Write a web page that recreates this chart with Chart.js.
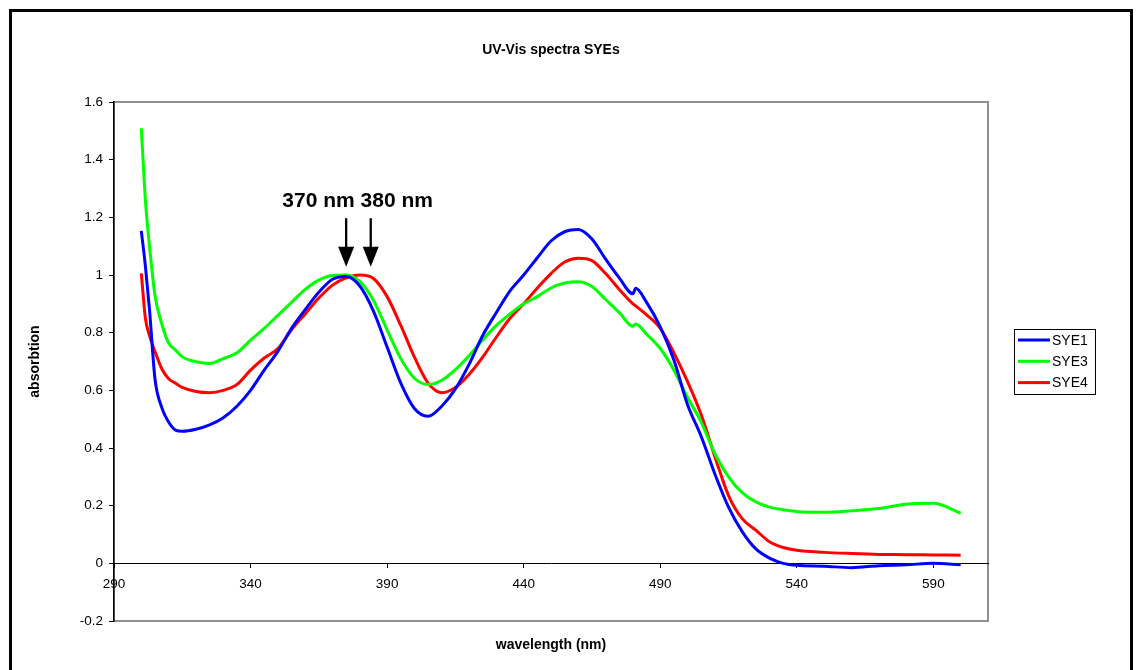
<!DOCTYPE html>
<html>
<head>
<meta charset="utf-8">
<script src="https://cdn.jsdelivr.net/npm/chart.js@4"></script>
<style>
html, body { margin: 0; padding: 0; background: #fff; }
</style>
</head>
<body>
<canvas id="uvvis" width="1136" height="670"></canvas>
<script>
// values
const wavelength = [300, 301.5, 303, 305, 307.5, 310, 312.5, 315, 320, 325, 330, 335, 340, 345, 350, 355, 360, 365, 370, 375,
  380, 385, 390, 395, 400, 405, 410, 415, 420, 425, 430, 435, 440, 445, 450, 455, 460, 465, 470, 475,
  480, 481, 485, 490, 495, 500, 505, 510, 515, 520, 525, 530, 535, 540, 550, 560, 570, 580, 590, 600];

const sye1 = [1.153, 1.03, 0.88, 0.64, 0.54, 0.49, 0.462, 0.458, 0.465, 0.48, 0.505, 0.545, 0.6, 0.67, 0.735, 0.815, 0.88, 0.94, 0.985, 0.995,
  0.962, 0.875, 0.75, 0.625, 0.537, 0.51, 0.545, 0.605, 0.69, 0.79, 0.87, 0.945, 1.0, 1.06, 1.118, 1.15, 1.158, 1.125, 1.055, 0.99,
  0.935, 0.954, 0.905, 0.82, 0.705, 0.55, 0.44, 0.31, 0.195, 0.11, 0.05, 0.018, 0.0, -0.007, -0.01, -0.015, -0.008, -0.005, 0.0, -0.005];

const sye3 = [1.509, 1.26, 1.1, 0.93, 0.83, 0.764, 0.74, 0.716, 0.699, 0.693, 0.71, 0.73, 0.774, 0.815, 0.86, 0.905, 0.95, 0.982, 0.998, 1.0,
  0.978, 0.912, 0.81, 0.71, 0.642, 0.62, 0.635, 0.672, 0.72, 0.775, 0.825, 0.865, 0.9, 0.925, 0.955, 0.972, 0.977, 0.96, 0.915, 0.87,
  0.822, 0.83, 0.795, 0.745, 0.67, 0.575, 0.49, 0.38, 0.3, 0.245, 0.213, 0.195, 0.186, 0.18, 0.177, 0.182, 0.19, 0.205, 0.208, 0.174];

const sye4 = [1.006, 0.85, 0.79, 0.735, 0.675, 0.64, 0.625, 0.61, 0.596, 0.592, 0.6, 0.62, 0.67, 0.712, 0.745, 0.81, 0.865, 0.92, 0.965, 0.99,
  1.0, 0.988, 0.925, 0.825, 0.715, 0.625, 0.592, 0.61, 0.655, 0.715, 0.785, 0.85, 0.9, 0.955, 1.005, 1.045, 1.058, 1.05, 1.005, 0.95,
  0.9, 0.893, 0.862, 0.815, 0.73, 0.63, 0.515, 0.37, 0.235, 0.155, 0.115, 0.075, 0.055, 0.045, 0.038, 0.034, 0.031, 0.03, 0.029, 0.028];

const seriesNames = ['SYE1', 'SYE3', 'SYE4'];
const seriesColors = ['#0000ff', '#00ff00', '#ff0000'];

const xTicks = [290, 340, 390, 440, 490, 540, 590];
const yTicks = [-0.2, 0, 0.2, 0.4, 0.6, 0.8, 1, 1.2, 1.4, 1.6];

// arrows pointing at the two maxima
const arrowWl = [375, 384];
const arrowTop = 1.197;
const arrowTip = 1.029;
const arrowText = '370 nm 380 nm';
const arrowTextAt = [379.2, 1.257];

const chartTitle = 'UV-Vis spectra SYEs';
const xTitle = 'wavelength (nm)';
const yTitle = 'absorbtion';

const FONT = '"Liberation Sans", Arial, sans-serif';

const toPoints = (vals) => vals.map((v, i) => ({ x: wavelength[i], y: v }));

const frame = {
    id: 'frame',
    beforeDraw(chart) {
        const { ctx, chartArea: a } = chart;
        ctx.save();
        ctx.fillStyle = '#fff';
        ctx.fillRect(0, 0, chart.width, chart.height);
        ctx.strokeStyle = '#909090';
        ctx.lineWidth = 2;
        ctx.strokeRect(a.left, a.top, a.right - a.left, a.bottom - a.top);
        ctx.restore();
    },
    afterDraw(chart) {
        const { ctx, chartArea: a } = chart;
        const xs = chart.scales.x, ys = chart.scales.y;
        const cx = (a.left + a.right) / 2;
        ctx.save();

        // outer border
        ctx.strokeStyle = '#000';
        ctx.lineWidth = 3;
        ctx.strokeRect(10.5, 10.5, 1121, 700);

        // titles
        ctx.fillStyle = '#000';
        ctx.textAlign = 'center';
        ctx.textBaseline = 'middle';
        ctx.font = 'bold 14px ' + FONT;
        ctx.fillText(chartTitle, cx, 50);
        ctx.fillText(xTitle, cx, 645);
        ctx.save();
        ctx.translate(35, (a.top + a.bottom) / 2);
        ctx.rotate(-Math.PI / 2);
        ctx.fillText(yTitle, 0, 0);
        ctx.restore();

        // annotation
        ctx.font = 'bold 21px ' + FONT;
        ctx.fillText(arrowText, xs.getPixelForValue(arrowTextAt[0]), ys.getPixelForValue(arrowTextAt[1]));
        arrowWl.forEach(wl => {
            const x = xs.getPixelForValue(wl);
            const y0 = ys.getPixelForValue(arrowTop);
            const y1 = ys.getPixelForValue(arrowTip);
            ctx.strokeStyle = '#000';
            ctx.lineWidth = 2.3;
            ctx.beginPath();
            ctx.moveTo(x, y0);
            ctx.lineTo(x, y1 - 15);
            ctx.stroke();
            ctx.beginPath();
            ctx.moveTo(x - 8, y1 - 20);
            ctx.lineTo(x + 8, y1 - 20);
            ctx.lineTo(x, y1);
            ctx.closePath();
            ctx.fill();
        });

        // legend
        ctx.strokeStyle = '#000';
        ctx.lineWidth = 1;
        ctx.strokeRect(1014.5, 329.5, 81, 65);
        ctx.font = '14px ' + FONT;
        ctx.textAlign = 'left';
        seriesNames.forEach((name, i) => {
            const y = 340 + i * 21.3;
            ctx.strokeStyle = seriesColors[i];
            ctx.lineWidth = 3;
            ctx.beginPath();
            ctx.moveTo(1018, y);
            ctx.lineTo(1050, y);
            ctx.stroke();
            ctx.fillStyle = '#000';
            ctx.fillText(name, 1052, y + 1);
        });
        ctx.restore();
    }
};

new Chart(document.getElementById('uvvis'), {
    type: 'line',
    data: {
        datasets: [sye1, sye3, sye4].map((vals, i) => ({
            label: seriesNames[i],
            data: toPoints(vals),
            borderColor: seriesColors[i],
            backgroundColor: seriesColors[i],
            borderWidth: 3,
            pointRadius: 0,
            cubicInterpolationMode: 'monotone',
            fill: false
        }))
    },
    options: {
        responsive: false,
        animation: false,
        layout: { padding: { top: 102, right: 148, bottom: 49, left: 0 } },
        plugins: {
            legend: { display: false },
            title: { display: false },
            tooltip: { enabled: false }
        },
        scales: {
            x: {
                type: 'linear',
                min: 290,
                max: 610,
                position: { y: 0 },
                grid: { drawOnChartArea: false, tickLength: 4, color: '#000' },
                border: { color: '#000', width: 1 },
                ticks: {
                    color: '#000',
                    font: { family: FONT, size: 13.5 },
                    padding: 9,
                    maxRotation: 0,
                    autoSkip: false
                },
                afterBuildTicks: (s) => { s.ticks = xTicks.map(v => ({ value: v })); }
            },
            y: {
                type: 'linear',
                min: -0.2,
                max: 1.6,
                grid: { drawOnChartArea: false, tickLength: 5, color: '#000' },
                border: { color: '#000', width: 1.5 },
                ticks: {
                    color: '#000',
                    font: { family: FONT, size: 13.5 },
                    padding: 6,
                    callback: (v) => String(+Number(v).toFixed(1))
                },
                afterBuildTicks: (s) => { s.ticks = yTicks.map(v => ({ value: v })); },
                afterFit: (s) => { s.width = 114; }
            }
        }
    },
    plugins: [frame]
});
</script>
</body>
</html>
